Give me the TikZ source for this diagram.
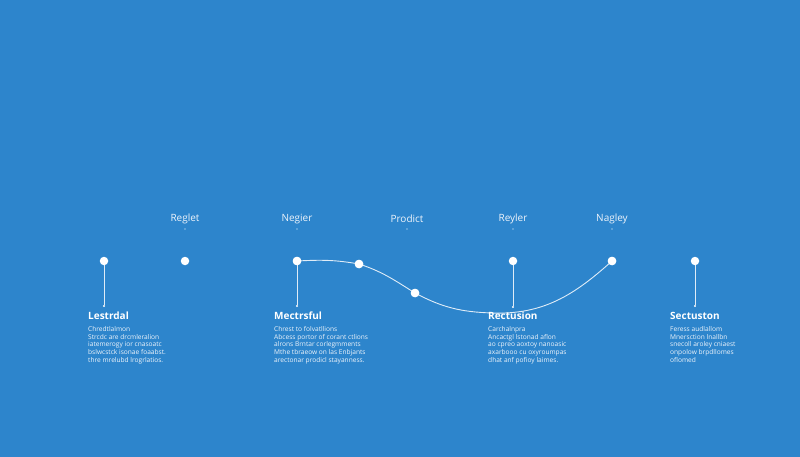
\documentclass[tikz,border=0pt]{standalone}
\usepackage{fontspec}
\setmainfont{Open Sans}
\definecolor{bg}{HTML}{2D85CC}
\definecolor{txt}{HTML}{EEF4FB}
\tikzset{
  dotnode/.style={circle,fill=white,inner sep=0pt,minimum size=8.5pt},
  endpt/.style={circle,fill=white,inner sep=0pt,minimum size=2.2pt},
  tick/.style={circle,fill=white,inner sep=0pt,minimum size=1.4pt},
  toplabel/.style={text=txt,font=\fontsize{10}{12}\selectfont,inner sep=0pt},
  title/.style={text=white,font=\bfseries\fontsize{10}{12}\selectfont,anchor=west,inner sep=0pt},
  body/.style={text=txt,font=\fontsize{6.6}{7.6}\selectfont,anchor=north west,align=left,inner sep=0pt},
  link/.style={draw=white,line width=0.9pt,opacity=0.85},
}
\begin{document}
\begin{tikzpicture}[x=1pt,y=-1pt]
\fill[bg] (0,0) rectangle (800,457);
\useasboundingbox (0,0) rectangle (800,457);
% top labels
\node[toplabel] (l1) at (185,219) {Reglet};
\node[toplabel] (l2) at (297,219) {Negier};
\node[toplabel] (l3) at (407,219) {Prodict};
\node[toplabel] (l4) at (513,219) {Reyler};
\node[toplabel] (l5) at (612,219) {Nagley};
\foreach \x/\n in {185/1,297/2,407/3,513/4,612/5}{\node[tick] (t\n) at (\x,229) {};}
% dots
\node[dotnode] (d1) at (104,261) {};
\node[dotnode] (d2) at (185,261) {};
\node[dotnode] (d3) at (297,261) {};
\node[dotnode] (d4) at (359,264) {};
\node[dotnode] (d5) at (415,293) {};
\node[dotnode] (d6) at (513,261) {};
\node[dotnode] (d7) at (612,261) {};
\node[dotnode] (d8) at (695,261) {};
\coordinate (low) at (492,313);
% end points
\node[endpt] (e1) at (104,306) {};
\node[endpt] (e3) at (297,306) {};
\node[endpt] (e6) at (513,307) {};
\node[endpt] (e8) at (695,306) {};
% verticals
\draw[link] (d1) -- (e1);
\draw[link] (d3) -- (e3);
\draw[link] (d6) -- (e6);
\draw[link] (d8) -- (e8);
% curve
\draw[link] (d3.center) to[out=3,in=170] (d4.center) to[out=-18,in=148] (d5.center) to[out=-28,in=178] (low) to[out=-2,in=-138] (d7.center);
\node[dotnode] at (d3) {};
\node[dotnode] at (d4) {};
\node[dotnode] at (d5) {};
\node[dotnode] at (d7) {};
% titles
\node[title] (h1) at (88,316) {Lestrdal};
\node[title] (h2) at (274,316) {Mectrsful};
\node[title] (h3) at (488,316) {Rectusion};
\node[title] (h4) at (670,316) {Sectuston};
% bodies
\node[body] (b1) at (88,326.5) {Chredtlalmon\\Strcdc are drcmleralion\\iatemerogy ior cnasoatc\\bslwcstck isonae foaabst.\\thre mrelubd lrogrlatios.};
\node[body] (b2) at (274,326.5) {Chrest to folvatllions\\Abcess portor of corant ctlions\\alrons Brntar corlegmments\\Mthe tbraeow on las Enbjants\\arectonar prodicl stayanness.};
\node[body] (b3) at (488,326.5) {Carchalnpra\\Ancactgl lstonad aflon\\ao cpreo aoxtoy nanoasic\\axarbooo cu oxyroumpas\\dhat anf pofioy laimes.};
\node[body] (b4) at (670,326.5) {Feress audlallom\\Mnersction lnallbn\\snecoll aroley cniaest\\onpolow brpdllomes\\oflomed};
\end{tikzpicture}
\end{document}
